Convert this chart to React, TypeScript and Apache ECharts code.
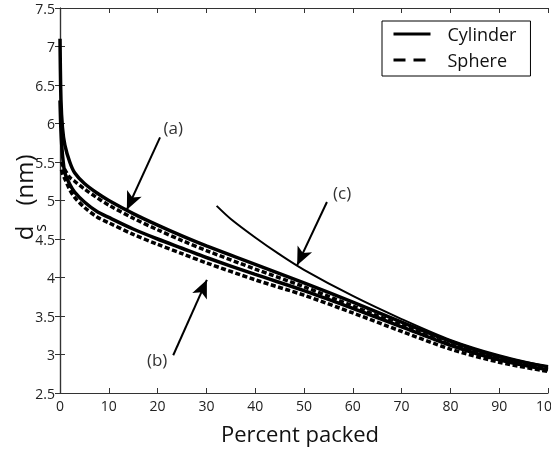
import React, { useEffect, useRef } from "react";
import * as echarts from "echarts";

// ---- data ----
const cylX = [0, 0.2, 0.5, 1, 2, 3, 5, 7.5, 10, 15, 20, 25, 30, 40, 50, 60, 70, 80, 90, 100];
const sphX = [0.3, 0.6, 1, 2, 3, 5, 7.5, 10, 15, 20, 25, 30, 40, 50, 60, 70, 80, 90, 100];
const cylA = [7.1, 6.3, 5.95, 5.72, 5.5, 5.36, 5.22, 5.1, 5.0, 4.83, 4.68, 4.54, 4.41, 4.17, 3.93, 3.68, 3.42, 3.17, 2.97, 2.84];
const sphA = [5.5, 5.45, 5.4, 5.3, 5.25, 5.15, 5.04, 4.94, 4.77, 4.62, 4.48, 4.35, 4.11, 3.88, 3.63, 3.38, 3.13, 2.95, 2.82];
const cylB = [6.3, 5.9, 5.6, 5.36, 5.21, 5.11, 4.98, 4.86, 4.78, 4.63, 4.5, 4.38, 4.26, 4.04, 3.83, 3.6, 3.36, 3.12, 2.93, 2.8];
const sphB = [5.4, 5.33, 5.28, 5.14, 5.04, 4.91, 4.79, 4.71, 4.56, 4.43, 4.31, 4.19, 3.97, 3.77, 3.54, 3.3, 3.07, 2.9, 2.78];
const cX = [32.1, 35, 40, 45, 50, 60, 70, 80, 90, 100];
const cY = [4.93, 4.76, 4.52, 4.3, 4.1, 3.76, 3.46, 3.19, 2.99, 2.84];

const annotLabels = ["(a)", "(b)", "(c)"];
const annotText = [[23.2, 5.95], [19.9, 2.93], [57.8, 5.11]];
const annotFrom = [[20.5, 5.82], [23.2, 2.99], [54.7, 4.98]];
const annotTo = [[13.7, 4.88], [30.1, 3.97], [48.6, 4.16]];

const legendNames = ["Cylinder", "Sphere"];

const FONT = "Open Sans";

const zip = (xs: number[], ys: number[]) => xs.map((x, i) => [x, ys[i]]);

export default function App() {
  const ref = useRef<HTMLDivElement>(null);
  useEffect(() => {
    if (!ref.current) return;
    const chart = echarts.init(ref.current, undefined, { renderer: "svg" });
    const axisCommon = {
      type: "value" as const,
      axisLine: { show: true, lineStyle: { color: "#333", width: 1.2 } },
      axisTick: { show: true, inside: true, length: 5, lineStyle: { color: "#333" } },
      splitLine: { show: false },
    };
    const solid = { color: "#000", width: 3.5, type: "solid" as const };
    const dashed = { color: "#000", width: 3.5, type: [5, 2.5] as any };
    const lineBase = { type: "line" as const, showSymbol: false, symbol: "none", smooth: 0.3, color: "#000" };
    chart.setOption({
      animation: false,
      grid: { left: 60, right: 3, top: 8, bottom: 61, outerBoundsMode: "none", containLabel: false },
      xAxis: [
        {
          ...axisCommon,
          min: 0,
          max: 100,
          interval: 10,
          axisLabel: { color: "#222", fontSize: 14, fontFamily: FONT, margin: 5 },
          name: "Percent packed",
          nameLocation: "middle",
          nameGap: 29,
          nameTextStyle: { color: "#111", fontSize: 22, fontFamily: FONT, padding: [0, 8, 0, 0] },
        },
        {
          ...axisCommon,
          position: "top",
          min: 0,
          max: 100,
          interval: 10,
          axisLabel: { show: false },
        },
      ],
      yAxis: [
        {
          ...axisCommon,
          min: 2.5,
          max: 7.5,
          interval: 0.5,
          axisLabel: { color: "#222", fontSize: 14, fontFamily: FONT, margin: 5 },
        },
        {
          ...axisCommon,
          position: "right",
          min: 2.5,
          max: 7.5,
          interval: 0.5,
          axisLabel: { show: false },
        },
      ],
      legend: {
        left: 382,
        top: 21,
        orient: "vertical",
        selectedMode: false,
        itemStyle: { opacity: 0 },
        data: [
          { name: legendNames[0], itemStyle: { opacity: 0 }, lineStyle: { width: 3, type: "solid", color: "#000" } },
          { name: legendNames[1], itemStyle: { opacity: 0 }, lineStyle: { width: 3, type: [12, 8], color: "#000" } },
        ],
        itemWidth: 37,
        itemHeight: 14,
        itemGap: 6,
        padding: [3, 14, 6, 10],
        borderColor: "#000",
        borderWidth: 1,
        textStyle: { fontSize: 18, fontFamily: FONT, color: "#111", lineHeight: 20, padding: [0, 0, 0, 12] },
      },
      graphic: [
        {
          type: "text",
          x: 23,
          y: 233,
          rotation: Math.PI / 2,
          style: { text: "d", font: `24px "${FONT}"`, fill: "#111", align: "center", verticalAlign: "middle" },
        },
        {
          type: "text",
          x: 40,
          y: 228,
          rotation: Math.PI / 2,
          style: { text: "s", font: `16px "${FONT}"`, fill: "#111", align: "center", verticalAlign: "middle" },
        },
        {
          type: "text",
          x: 23,
          y: 180,
          rotation: Math.PI / 2,
          style: { text: "(nm)", font: `24px "${FONT}"`, fill: "#111", align: "center", verticalAlign: "middle" },
        },
      ],
      series: [
        { ...lineBase, name: legendNames[0], data: zip(cylX, cylA), lineStyle: solid },
        { ...lineBase, name: legendNames[1], data: zip(sphX, sphA), lineStyle: dashed },
        { ...lineBase, name: legendNames[0], data: zip(cylX, cylB), lineStyle: solid },
        { ...lineBase, name: legendNames[1], data: zip(sphX, sphB), lineStyle: dashed },
        {
          ...lineBase,
          name: "(c)",
          data: zip(cX, cY),
          lineStyle: { color: "#000", width: 2 },
          markLine: {
            silent: true,
            symbol: ["none", "arrow"],
            symbolSize: [12, 18],
            lineStyle: { color: "#000", width: 2, type: "solid" },
            label: { show: false },
            data: annotFrom.map((f, i) => [{ coord: f }, { coord: annotTo[i] }]),
          },
          markPoint: {
            silent: true,
            symbol: "circle",
            symbolSize: 1,
            itemStyle: { color: "rgba(0,0,0,0)" },
            label: { show: true, position: "inside", formatter: "{b}", color: "#333", fontSize: 17, fontFamily: FONT },
            data: annotText.map((t, i) => ({ name: annotLabels[i], coord: t })),
          },
        },
      ],
    });
    return () => chart.dispose();
  }, []);
  return <div ref={ref} style={{ position: "fixed", left: 0, top: 0, width: 551, height: 454 }} />;
}
